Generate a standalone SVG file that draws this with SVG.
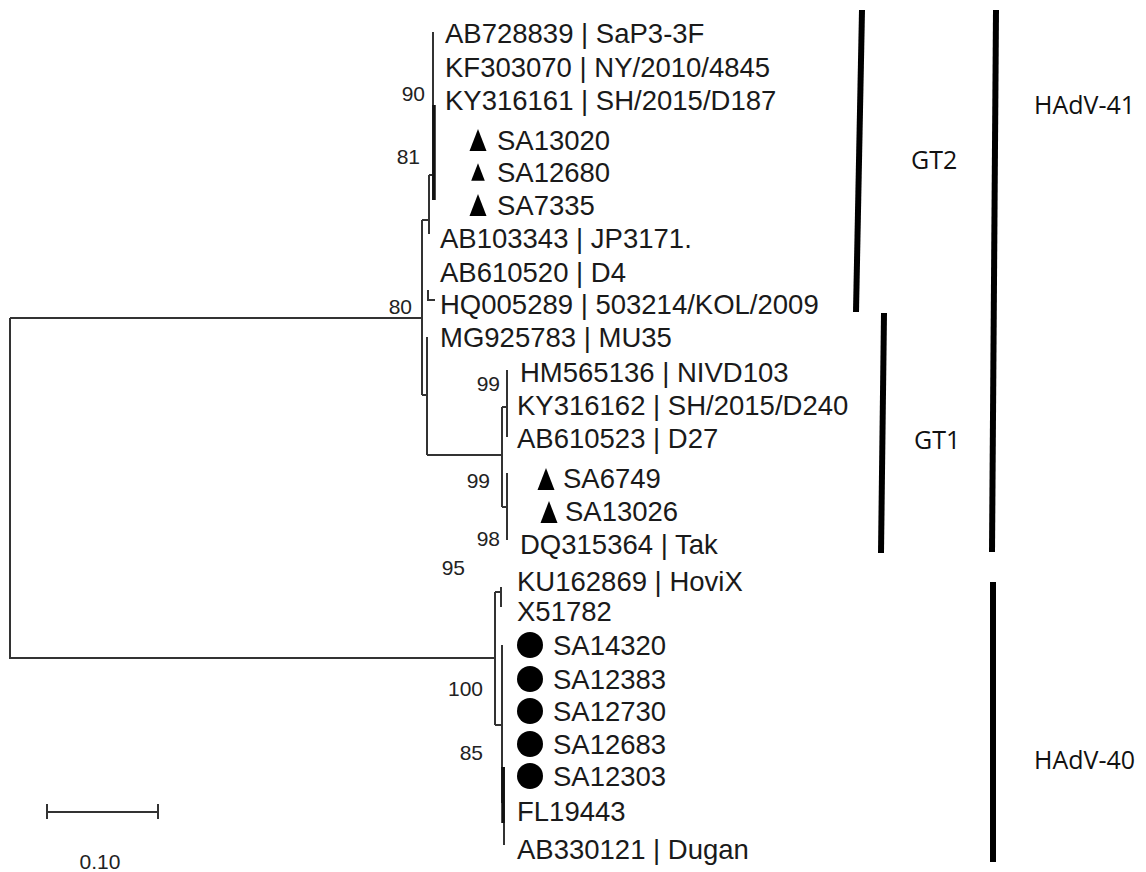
<svg xmlns="http://www.w3.org/2000/svg" width="1146" height="872" viewBox="0 0 1146 872">
<style>
.leaf{font-family:"Liberation Sans",Arial,sans-serif;font-size:27.5px;fill:#1a1a1a}
.bs{font-family:"Liberation Sans",Arial,sans-serif;font-size:21px;fill:#222;text-anchor:end}
.grp{font-family:"Open Sans","Noto Sans",sans-serif;font-size:25px;fill:#111}
.br{stroke:#333;stroke-width:2;fill:none}
.thick{stroke:#111;stroke-width:3.5;fill:none}
.bar{stroke:#000;stroke-width:6;fill:none}
</style>
<defs>
<path id="tri" d="M0,-11 L8.5,11 L-8.5,11 Z" fill="#000"/>
<circle id="dot" r="13" fill="#000"/>
</defs>
<rect width="1146" height="872" fill="#fff"/>
<g id="connectors">
<path class="br" d="M10,318 H422 M10,318 V658 H495"/>
<path class="br" d="M422,220 V395 M422,220 H429 M429,175 V234 M429,175 H433 M433,32 V200"/>
<path class="thick" d="M434,105 V200"/>
<path class="br" d="M428,290 V300 H435"/>
<path class="br" d="M422,395 H427 M427,337 V455 M427,455 H502 M502,407 V507 M502,407 H507 M507,370 V437 M502,507 H507 M507,473 V540"/>
<path class="br" d="M495,592 V725 M495,592 H501 M501,587 V607 M495,725 H502 M502,645 V803 M504,767 V845"/>
<path class="thick" d="M503,767 V823"/>
<path class="br" d="M47,812 H158 M47,804 V819 M158,804 V819"/>
</g>
<g id="bootstrap">
<text class="bs" x="425" y="101">90</text>
<text class="bs" x="420" y="164">81</text>
<text class="bs" x="412" y="314">80</text>
<text class="bs" x="500" y="391">99</text>
<text class="bs" x="490" y="488">99</text>
<text class="bs" x="500" y="546">98</text>
<text class="bs" x="465" y="575">95</text>
<text class="bs" x="483" y="696">100</text>
<text class="bs" x="483" y="760">85</text>
</g>
<g id="n1"><text class="leaf" x="445" y="43">AB728839 | SaP3-3F</text></g>
<g id="n2"><text class="leaf" x="445" y="77">KF303070 | NY/2010/4845</text></g>
<g id="n3"><text class="leaf" x="445" y="110">KY316161 | SH/2015/D187</text></g>
<g id="n4"><use href="#tri" x="478" y="140"/><text class="leaf" x="497" y="150">SA13020</text></g>
<g id="n5"><use href="#tri" transform="translate(478 172) scale(0.8)"/><text class="leaf" x="497" y="182">SA12680</text></g>
<g id="n6"><use href="#tri" x="478" y="205"/><text class="leaf" x="497" y="215">SA7335</text></g>
<g id="n7"><text class="leaf" x="440" y="248">AB103343 | JP3171.</text></g>
<g id="n8"><text class="leaf" x="440" y="282">AB610520 | D4</text></g>
<g id="n9"><text class="leaf" x="440" y="314">HQ005289 | 503214/KOL/2009</text></g>
<g id="n10"><text class="leaf" x="440" y="347">MG925783 | MU35</text></g>
<g id="n11"><text class="leaf" x="520" y="382">HM565136 | NIVD103</text></g>
<g id="n12"><text class="leaf" x="517" y="415">KY316162 | SH/2015/D240</text></g>
<g id="n13"><text class="leaf" x="517" y="448">AB610523 | D27</text></g>
<g id="n14"><use href="#tri" x="546" y="479"/><text class="leaf" x="563" y="488">SA6749</text></g>
<g id="n15"><use href="#tri" x="549" y="512"/><text class="leaf" x="565" y="521">SA13026</text></g>
<g id="n16"><text class="leaf" x="520" y="554">DQ315364 | Tak</text></g>
<g id="n17"><text class="leaf" x="517" y="591">KU162869 | HoviX</text></g>
<g id="n18"><text class="leaf" x="517" y="621">X51782</text></g>
<g id="n19"><use href="#dot" x="530" y="645"/><text class="leaf" x="553" y="655">SA14320</text></g>
<g id="n20"><use href="#dot" x="530" y="679"/><text class="leaf" x="553" y="689">SA12383</text></g>
<g id="n21"><use href="#dot" x="530" y="711"/><text class="leaf" x="553" y="721">SA12730</text></g>
<g id="n22"><use href="#dot" x="530" y="744"/><text class="leaf" x="553" y="754">SA12683</text></g>
<g id="n23"><use href="#dot" x="530" y="776"/><text class="leaf" x="553" y="786">SA12303</text></g>
<g id="n24"><text class="leaf" x="517" y="821">FL19443</text></g>
<g id="n25"><text class="leaf" x="517" y="859">AB330121 | Dugan</text></g>
<g id="scale"><text class="bs" x="100" y="869" style="text-anchor:middle">0.10</text></g>
<g id="groups">
<path class="bar" d="M862,10 L856,312"/>
<path class="bar" d="M996,10 L992,552"/>
<path class="bar" d="M884,313 L881,553"/>
<path class="bar" d="M993,582 V862"/>
<text class="grp" x="911" y="169">GT2</text>
<text class="grp" x="914" y="449">GT1</text>
<text class="grp" x="1034" y="114">HAdV-41</text>
<text class="grp" x="1034" y="769">HAdV-40</text>
</g>
</svg>
